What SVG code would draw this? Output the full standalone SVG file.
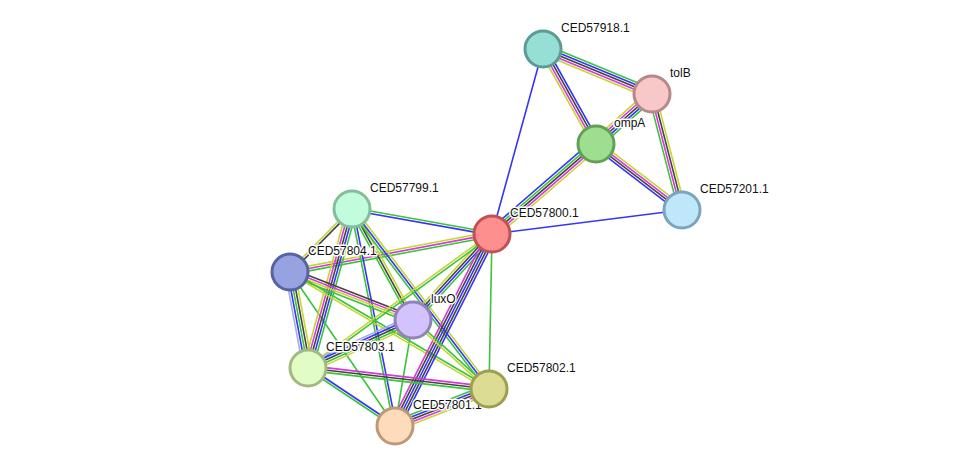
<svg xmlns="http://www.w3.org/2000/svg" width="976" height="472" viewBox="0 0 976 472">
<style>
#edges path,#edges line{fill:none;stroke-width:1.6}
.g{stroke:#3bc43b}.b{stroke:#3535f2}.m{stroke:#d43ad4}.k{stroke:#444}.y{stroke:#c5d633}.l{stroke:#a4acf2}
.node circle{stroke-width:3}
.node text{font-family:"Liberation Sans",Arial,sans-serif;font-size:12px;fill:#111;stroke:#fff;stroke-width:3;paint-order:stroke;stroke-linejoin:round}
</style>
<rect width="976" height="472" fill="#fff"/>
<g id="edges">
<line class="b" x1="543" y1="49" x2="492" y2="234"/>
<line class="b" x1="492" y1="234" x2="682" y2="210"/>
<line class="g" x1="492" y1="234" x2="489" y2="389"/>
<line class="g" x1="290" y1="272" x2="395" y2="426"/>
<line class="g" x1="413" y1="320" x2="395" y2="426"/>
<g transform="translate(543,49) rotate(22.43)"><path class="g" d="M0-4.8H118"/><path class="b" d="M0-2.4H118"/><path class="k" d="M0 0H118"/><path class="m" d="M0 2.4H118"/><path class="y" d="M0 4.8H118"/></g>
<g transform="translate(543,49) rotate(60.84)"><path class="b" d="M0-3.6H109"/><path class="k" d="M0-1.2H109"/><path class="m" d="M0 1.2H109"/><path class="y" d="M0 3.6H109"/></g>
<g transform="translate(596,144) rotate(-41.76)"><path class="y" d="M0-4.8H75"/><path class="m" d="M0-2.4H75"/><path class="k" d="M0 0H75"/><path class="b" d="M0 2.4H75"/><path class="g" d="M0 4.8H75"/></g>
<g transform="translate(652,94) rotate(75.5)"><path class="y" d="M0-3.6H120"/><path class="k" d="M0-1.2H120"/><path class="m" d="M0 1.2H120"/><path class="g" d="M0 3.6H120"/></g>
<g transform="translate(492,234) rotate(-40.87)"><path class="b" d="M0-4.8H137"/><path class="g" d="M0-2.4H137"/><path class="k" d="M0 0H137"/><path class="m" d="M0 2.4H137"/><path class="y" d="M0 4.8H137"/></g>
<g transform="translate(596,144) rotate(37.5)"><path class="y" d="M0-3.6H108"/><path class="m" d="M0-1.2H108"/><path class="k" d="M0 1.2H108"/><path class="b" d="M0 3.6H108"/></g>
<g transform="translate(352,209) rotate(10.12)"><path class="g" d="M0-1.2H142"/><path class="b" d="M0 1.2H142"/></g>
<g transform="translate(290,272) rotate(-10.65)"><path class="y" d="M0-2.4H205"/><path class="m" d="M0 0H205"/><path class="g" d="M0 2.4H205"/></g>
<g transform="translate(290,272) rotate(-45.45)"><path class="y" d="M0-1.2H88"/><path class="k" d="M0 1.2H88"/></g>
<g transform="translate(352,209) rotate(61.21)"><path class="y" d="M0-2.4H127"/><path class="k" d="M0 0H127"/><path class="g" d="M0 2.4H127"/></g>
<g transform="translate(308,368) rotate(-74.53)"><path class="y" d="M0-4.8H165"/><path class="m" d="M0-2.4H165"/><path class="k" d="M0 0H165"/><path class="b" d="M0 2.4H165"/><path class="g" d="M0 4.8H165"/></g>
<g transform="translate(352,209) rotate(52.72)"><path class="y" d="M0-2.4H226"/><path class="b" d="M0 0H226"/><path class="g" d="M0 2.4H226"/></g>
<g transform="translate(352,209) rotate(78.79)"><path class="b" d="M0-1.2H221"/><path class="g" d="M0 1.2H221"/></g>
<g transform="translate(290,272) rotate(21.32)"><path class="k" d="M0-3.6H132"/><path class="m" d="M0-1.2H132"/><path class="y" d="M0 1.2H132"/><path class="g" d="M0 3.6H132"/></g>
<g transform="translate(290,272) rotate(79.38)"><path class="y" d="M0-4.8H98"/><path class="k" d="M0-2.4H98"/><path class="g" d="M0 0H98"/><path class="b" d="M0 2.4H98"/><path class="l" d="M0 4.8H98"/></g>
<g transform="translate(290,272) rotate(30.45)"><path class="g" d="M0-1.2H231"/><path class="y" d="M0 1.2H231"/></g>
<g transform="translate(413,320) rotate(-47.43)"><path class="y" d="M0-3.6H117"/><path class="k" d="M0-1.2H117"/><path class="b" d="M0 1.2H117"/><path class="g" d="M0 3.6H117"/></g>
<g transform="translate(308,368) rotate(-36.06)"><path class="y" d="M0-1.2H228"/><path class="g" d="M0 1.2H228"/></g>
<g transform="translate(395,426) rotate(-63.19)"><path class="m" d="M0-4.8H215"/><path class="k" d="M0-2.4H215"/><path class="b" d="M0 0H215"/><path class="k" d="M0 2.4H215"/><path class="b" d="M0 4.8H215"/></g>
<g transform="translate(308,368) rotate(-24.57)"><path class="l" d="M0-4.8H116"/><path class="b" d="M0-2.4H116"/><path class="k" d="M0 0H116"/><path class="g" d="M0 2.4H116"/><path class="y" d="M0 4.8H116"/></g>
<g transform="translate(413,320) rotate(42.24)"><path class="g" d="M0-1.2H103"/><path class="y" d="M0 1.2H103"/></g>
<g transform="translate(308,368) rotate(6.62)"><path class="m" d="M0-2.4H182"/><path class="k" d="M0 0H182"/><path class="g" d="M0 2.4H182"/></g>
<g transform="translate(308,368) rotate(33.69)"><path class="b" d="M0-1.2H105"/><path class="g" d="M0 1.2H105"/></g>
<g transform="translate(395,426) rotate(-21.49)"><path class="g" d="M0-4.8H101"/><path class="b" d="M0-2.4H101"/><path class="k" d="M0 0H101"/><path class="m" d="M0 2.4H101"/><path class="y" d="M0 4.8H101"/></g>
</g>
<g id="CED57918.1" class="node"><circle cx="543" cy="49" r="18" fill="#95dfd5" stroke="#5a9c95"/><text x="561" y="32">CED57918.1</text></g>
<g id="tolB" class="node"><circle cx="652" cy="94" r="18" fill="#f8c8c8" stroke="#b88888"/><text x="670" y="77">tolB</text></g>
<g id="ompA" class="node"><circle cx="596" cy="144" r="18" fill="#9ede90" stroke="#62a058"/><text x="614" y="127">ompA</text></g>
<g id="CED57201.1" class="node"><circle cx="682" cy="210" r="18" fill="#c0e6fa" stroke="#7aa4bf"/><text x="700" y="193">CED57201.1</text></g>
<g id="CED57800.1" class="node"><circle cx="492" cy="234" r="18" fill="#fd8f8f" stroke="#c05252"/><text x="510" y="217">CED57800.1</text></g>
<g id="CED57799.1" class="node"><circle cx="352" cy="209" r="18" fill="#c2fcdc" stroke="#80bf9c"/><text x="370" y="192">CED57799.1</text></g>
<g id="CED57804.1" class="node"><circle cx="290" cy="272" r="18" fill="#97a3e0" stroke="#5762a0"/><text x="308" y="255">CED57804.1</text></g>
<g id="luxO" class="node"><circle cx="413" cy="320" r="18" fill="#d3c2fb" stroke="#9282ba"/><text x="431" y="303">luxO</text></g>
<g id="CED57803.1" class="node"><circle cx="308" cy="368" r="18" fill="#e2fcc6" stroke="#a2b981"/><text x="326" y="351">CED57803.1</text></g>
<g id="CED57801.1" class="node"><circle cx="395" cy="426" r="18" fill="#fedcbb" stroke="#bb9a7a"/><text x="413" y="409">CED57801.1</text></g>
<g id="CED57802.1" class="node"><circle cx="489" cy="389" r="18" fill="#dcdc95" stroke="#9e9e50"/><text x="507" y="372">CED57802.1</text></g>
</svg>
